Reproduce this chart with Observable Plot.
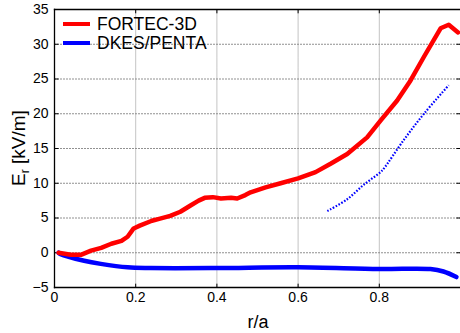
<!DOCTYPE html>
<html>
<head>
<meta charset="utf-8">
<script src="https://cdn.jsdelivr.net/npm/d3@7"></script>
<script src="https://cdn.jsdelivr.net/npm/@observablehq/plot@0.6"></script>
<style>
  html, body { margin: 0; padding: 0; background: #fff; }
  #chart { position: relative; width: 460px; height: 333px; font-family: "Liberation Sans", Arial, sans-serif; }
  .leg { position: absolute; left: 63px; font-size: 17.5px; color: #000; display: flex; align-items: center; line-height: 18px; }
  .leg span.sw { display: inline-block; width: 27px; height: 4px; margin-right: 7px; }
  .ylab { position: absolute; left: 22px; top: 148px; transform: translate(-50%, -50%) rotate(-90deg); font-size: 19px; white-space: nowrap; color: #000; line-height: 20px; }
  .ylab sub { font-size: 12px; vertical-align: -4px; }
  .xlab { position: absolute; left: 258px; top: 312px; transform: translateX(-50%); font-size: 18px; color: #000; line-height: 20px; }
</style>
</head>
<body>
<div id="chart"></div>
<script>
// FORTEC-3D (red)
const fortecR = [0.01, 0.04, 0.065, 0.09, 0.115, 0.14, 0.165, 0.18, 0.195, 0.21, 0.24, 0.26, 0.285, 0.31, 0.335, 0.355, 0.37, 0.39, 0.41, 0.435, 0.45, 0.47, 0.483, 0.52, 0.557, 0.60, 0.643, 0.68, 0.721, 0.77, 0.803, 0.844, 0.877, 0.91, 0.951, 0.971, 0.994];
const fortecE = [0.0, -0.3, -0.3, 0.3, 0.7, 1.3, 1.7, 2.3, 3.5, 3.9, 4.6, 4.9, 5.3, 5.9, 6.8, 7.5, 7.9, 8.0, 7.8, 7.9, 7.8, 8.3, 8.7, 9.4, 10.0, 10.7, 11.6, 12.8, 14.2, 16.6, 19.0, 21.9, 24.8, 28.2, 32.3, 32.8, 31.7];
// DKES/PENTA solid (blue)
const dkesR = [0.01, 0.015, 0.073, 0.114, 0.18, 0.237, 0.4, 0.6, 0.8, 0.926, 0.958, 0.99];
const dkesE = [0.0, -0.2, -1.15, -1.6, -2.1, -2.2, -2.2, -2.1, -2.35, -2.35, -2.7, -3.5];
// DKES/PENTA dotted branch (blue)
const dkes2R = [0.672, 0.721, 0.762, 0.803, 0.811, 0.86, 0.91, 0.971];
const dkes2E = [6.0, 7.7, 9.8, 11.6, 12.1, 16.2, 20.0, 24.1];
// ticks
const xTicks = [0, 0.2, 0.4, 0.6, 0.8];
const yTicks = [-5, 0, 5, 10, 15, 20, 25, 30, 35];
const legendNames = ["FORTEC-3D", "DKES/PENTA"];
const legendColors = ["#ff0000", "#0000ff"];

const fortec = fortecR.map((r, i) => ({r, e: fortecE[i]}));
const dkes = dkesR.map((r, i) => ({r, e: dkesE[i]}));
const dkes2 = dkes2R.map((r, i) => ({r, e: dkes2E[i]}));

const xMin = 0, xMax = 1, yMin = -5, yMax = 35;
// grid / frame / tick segments built from the tick arrays (drawn as paths)
const seg = (pairs) => pairs.flatMap(([a, b], k) => [{...a, k}, {...b, k}]);
const hGrid = seg(yTicks.filter(v => v > yMin && v < yMax).map(v => [{x: xMin, y: v}, {x: xMax, y: v}]));
const vGrid = seg(xTicks.filter(v => v > xMin).map(v => [{x: v, y: yMin}, {x: v, y: yMax}]));
const frame = seg([
  [{x: xMin, y: yMin}, {x: xMax, y: yMin}],
  [{x: xMin, y: yMax}, {x: xMax, y: yMax}],
  [{x: xMin, y: yMin}, {x: xMin, y: yMax}]
]);
const ticks = seg([
  ...yTicks.map(v => [{x: xMin, y: v}, {x: xMin + 0.01, y: v}]),
  ...yTicks.map(v => [{x: xMax - 0.01, y: v}, {x: xMax, y: v}]),
  ...xTicks.map(v => [{x: v, y: yMin}, {x: v, y: yMin + 0.55}]),
  ...xTicks.map(v => [{x: v, y: yMax}, {x: v, y: yMax - 0.55}])
]);

const plot = Plot.plot({
  width: 460,
  height: 333,
  marginLeft: 54,
  marginRight: 0,
  marginTop: 9,
  marginBottom: 46,
  style: {fontFamily: "Liberation Sans, Arial, sans-serif", background: "#fff", color: "#000"},
  x: {domain: [xMin, xMax]},
  y: {domain: [yMin, yMax]},
  marks: [
    Plot.line(hGrid, {x: "x", y: "y", z: "k", stroke: "#222", strokeDasharray: "1,2", strokeWidth: 1, strokeLinecap: "butt"}),
    Plot.line(vGrid, {x: "x", y: "y", z: "k", stroke: "#888", strokeDasharray: "1,1", strokeWidth: 1, strokeLinecap: "butt"}),
    Plot.line(ticks, {x: "x", y: "y", z: "k", stroke: "#000", strokeWidth: 1, strokeLinecap: "butt"}),
    Plot.line(frame, {x: "x", y: "y", z: "k", stroke: "#000", strokeWidth: 1.3, strokeLinecap: "square"}),
    Plot.axisX(xTicks, {tickSize: 0, tickPadding: 5, fontSize: 14, label: null, tickFormat: d => d === 0 ? "0" : d3.format(".1f")(d)}),
    Plot.axisY(yTicks, {tickSize: 0, tickPadding: 6, fontSize: 14, label: null}),
    Plot.line(dkes2, {x: "r", y: "e", stroke: "#0000ff", strokeWidth: 2.2, strokeDasharray: "1.6,1.6", strokeLinecap: "butt", curve: "catmull-rom"}),
    Plot.line(dkes, {x: "r", y: "e", stroke: "#0000ff", strokeWidth: 4.5, curve: "catmull-rom"}),
    Plot.line(fortec, {x: "r", y: "e", stroke: "#ff0000", strokeWidth: 4.5, curve: "linear"})
  ]
});

const chart = document.getElementById("chart");
chart.appendChild(plot);

const yl = document.createElement("div");
yl.className = "ylab";
yl.innerHTML = "E<sub>r</sub> [kV/m]";
chart.appendChild(yl);

const xl = document.createElement("div");
xl.className = "xlab";
xl.textContent = "r/a";
chart.appendChild(xl);

legendNames.forEach((name, i) => {
  const d = document.createElement("div");
  d.className = "leg";
  d.style.top = (15 + i * 19) + "px";
  const sw = document.createElement("span");
  sw.className = "sw";
  sw.style.background = legendColors[i];
  d.appendChild(sw);
  d.appendChild(document.createTextNode(name));
  chart.appendChild(d);
});
</script>
</body>
</html>
